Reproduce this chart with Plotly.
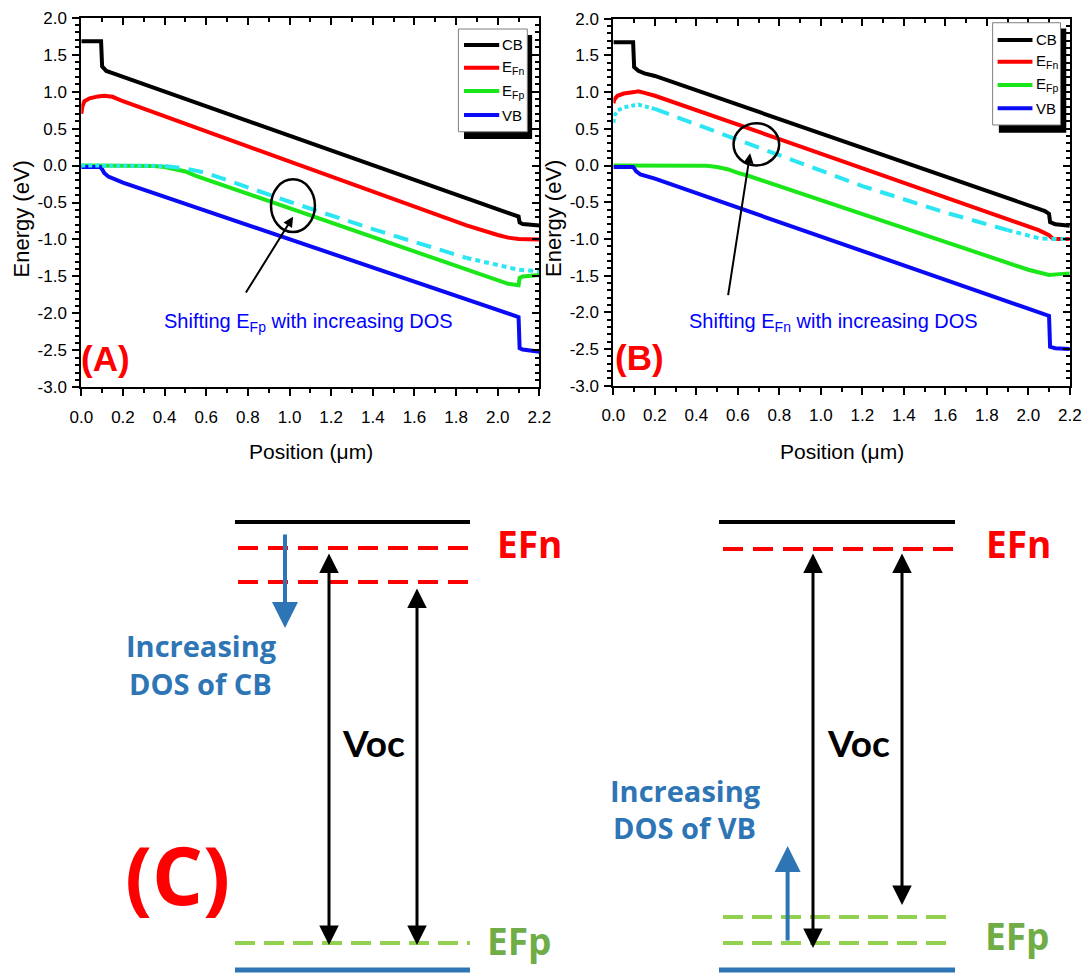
import plotly.graph_objects as go

# ---------------- Panel A data (position in um, energy in eV) ----------------
pos_cb_a = [0, 0.095, 0.1, 0.12, 0.15, 0.2, 2.0, 2.09, 2.1, 2.105, 2.12, 2.2]
cb_a = [1.68, 1.68, 1.34, 1.28, 1.25, 1.2, -0.6, -0.68, -0.69, -0.77, -0.79, -0.81]

pos_efn_a = [0, 0.005, 0.015, 0.04, 0.08, 0.11, 0.15, 0.2, 1.85, 1.95, 2.0, 2.05, 2.1, 2.2]
efn_a = [0.7, 0.8, 0.87, 0.91, 0.935, 0.945, 0.93, 0.87, -0.81, -0.9, -0.94, -0.975, -0.995, -1.0]

pos_efp_a = [0, 0.3, 0.35, 0.4, 0.45, 0.5, 0.55, 2.05, 2.1, 2.105, 2.12, 2.2]
efp_a = [0, 0, -0.005, -0.02, -0.045, -0.08, -0.14, -1.6, -1.62, -1.52, -1.5, -1.48]

pos_vb_a = [0, 0.09, 0.1, 0.11, 0.13, 0.2, 2.1, 2.105, 2.12, 2.2]
vb_a = [-0.02, -0.02, -0.05, -0.1, -0.15, -0.23, -2.05, -2.47, -2.49, -2.52]

pos_shift_a = [0, 0.35, 0.4, 0.45, 0.5, 0.6, 1.0, 1.4, 1.85, 2.0, 2.1, 2.2]
shift_a = [0, 0, -0.005, -0.02, -0.04, -0.1, -0.49, -0.86, -1.25, -1.35, -1.41, -1.43]

# ---------------- Panel B data ----------------
pos_cb_b = [0, 0.095, 0.1, 0.12, 0.15, 0.2, 2.08, 2.1, 2.105, 2.13, 2.2]
cb_b = [1.68, 1.68, 1.34, 1.29, 1.255, 1.22, -0.62, -0.66, -0.77, -0.8, -0.82]

pos_efn_b = [0, 0.005, 0.02, 0.05, 0.1, 0.12, 0.15, 0.2, 0.8, 1.9, 2.0, 2.05, 2.1, 2.12, 2.2]
efn_b = [0.85, 0.9, 0.95, 0.98, 1.0, 1.01, 0.99, 0.95, 0.36, -0.72, -0.82, -0.88, -0.95, -1.0, -1.0]

pos_efp_b = [0, 0.4, 0.45, 0.5, 0.55, 0.6, 0.65, 2.0, 2.05, 2.1, 2.15, 2.2]
efp_b = [0, 0, -0.005, -0.02, -0.05, -0.1, -0.14, -1.42, -1.46, -1.49, -1.48, -1.47]

pos_vb_b = [0, 0.095, 0.1, 0.11, 0.13, 0.2, 2.1, 2.105, 2.13, 2.2]
vb_b = [-0.02, -0.02, -0.04, -0.08, -0.12, -0.18, -2.05, -2.47, -2.49, -2.5]

pos_shift_b = [0, 0.005, 0.02, 0.05, 0.1, 0.12, 0.2, 0.7, 1.2, 1.6, 1.9, 2.0, 2.05, 2.1, 2.2]
shift_b = [0.58, 0.68, 0.75, 0.79, 0.82, 0.83, 0.77, 0.25, -0.28, -0.64, -0.88, -0.95, -0.99, -1.0, -1.0]

# ---------------- tick labels ----------------
x_tick_vals = [0.0, 0.2, 0.4, 0.6, 0.8, 1.0, 1.2, 1.4, 1.6, 1.8, 2.0, 2.2]
x_tick_text = ["0.0", "0.2", "0.4", "0.6", "0.8", "1.0", "1.2", "1.4", "1.6", "1.8", "2.0", "2.2"]
y_tick_vals = [-3.0, -2.5, -2.0, -1.5, -1.0, -0.5, 0.0, 0.5, 1.0, 1.5, 2.0]
y_tick_text = ["-3.0", "-2.5", "-2.0", "-1.5", "-1.0", "-0.5", "0.0", "0.5", "1.0", "1.5", "2.0"]

legend_names = ["CB", "E<sub>Fn</sub>", "E<sub>Fp</sub>", "VB"]

# ---------------- Panel C schematic (levels in schematic units, top = small) ----------------
c_left_span = [235, 470]
c_left_dash_span = [238, 475]
c_right_span = [719, 955]
c_right_dash_span = [723, 955]
cb_level = 522
vb_level = 970
efn_levels_left = [548, 582]
efp_level_left = 943
efn_level_right = 549
efp_levels_right = [917, 943]
voc_x_left = [329, 417]
voc_x_right = [813, 902]

W, H = 1083, 976
REG = "Liberation Sans, Arial, sans-serif"
CFONT = "Open Sans, Lato, sans-serif"
VFONT = "Lato, Open Sans, sans-serif"

BLACK = "#000000"
RED = "#FF0000"
GREEN = "#1AE61A"
BLUE = "#0A0AF5"
CYAN = "#2BE6F2"
OFFICE_BLUE = "#2E75B6"
LIGHT_GREEN = "#92D050"
TEXT_GREEN = "#70AD47"


def px(x):
    return x / W


def py(y):
    return 1 - y / H


fig = go.Figure()


def add_line(xs, ys, color, xa, ya, dash="solid", width=4):
    fig.add_trace(go.Scatter(x=xs, y=ys, mode="lines",
                             line=dict(color=color, width=width, dash=dash),
                             xaxis=xa, yaxis=ya, showlegend=False, hoverinfo="skip"))


def add_shift(xs, ys, i1, i2, xa, ya):
    add_line(xs[:i1 + 1], ys[:i1 + 1], CYAN, xa, ya, dash="4px,3px")
    add_line(xs[i1:i2 + 1], ys[i1:i2 + 1], CYAN, xa, ya, dash="15px,9px")
    add_line(xs[i2:], ys[i2:], CYAN, xa, ya, dash="5px,4px")


# Panel A
add_line(pos_cb_a, cb_a, BLACK, "x", "y")
add_line(pos_efn_a, efn_a, RED, "x", "y")
add_line(pos_efp_a, efp_a, GREEN, "x", "y")
add_line(pos_vb_a, vb_a, BLUE, "x", "y")
add_shift(pos_shift_a, shift_a, 2, 8, "x", "y")

# Panel B
add_line(pos_cb_b, cb_b, BLACK, "x2", "y2")
add_line(pos_efn_b, efn_b, RED, "x2", "y2")
add_line(pos_efp_b, efp_b, GREEN, "x2", "y2")
add_line(pos_vb_b, vb_b, BLUE, "x2", "y2")
add_shift(pos_shift_b, shift_b, 6, 10, "x2", "y2")

# dummy traces for mirrored (inside-tick) axes
fig.add_trace(go.Scatter(x=[None], y=[None], xaxis="x3", yaxis="y3", showlegend=False, hoverinfo="skip"))
fig.add_trace(go.Scatter(x=[None], y=[None], xaxis="x4", yaxis="y4", showlegend=False, hoverinfo="skip"))

# Panel C schematic
for span in (c_left_span, c_right_span):
    add_line(span, [cb_level, cb_level], BLACK, "x5", "y5", width=4)
for span in (c_left_span, c_right_span):
    add_line(span, [vb_level, vb_level], OFFICE_BLUE, "x5", "y5", width=5)
for lvl in efn_levels_left:
    add_line(c_left_dash_span, [lvl, lvl], RED, "x5", "y5", dash="20px,10px", width=4)
add_line(c_right_dash_span, [efn_level_right, efn_level_right], RED, "x5", "y5", dash="20px,10px", width=4)
add_line(c_left_span, [efp_level_left, efp_level_left], LIGHT_GREEN, "x5", "y5", dash="20px,9px", width=4)
for lvl in efp_levels_right:
    add_line(c_right_dash_span, [lvl, lvl], LIGHT_GREEN, "x5", "y5", dash="20px,9px", width=4)

# ---------------- axes ----------------
domA_x = [px(81.3), px(539.4)]
domA_y = [py(387.3), py(17.7)]
domB_x = [px(613.4), px(1069.8)]
domB_y = [py(385.7), py(18.7)]

TICKFONT = dict(family=REG, size=17, color="black")


def xmain(dom, anchor):
    return dict(domain=dom, anchor=anchor, range=[0, 2.2], tickmode="array", tickvals=x_tick_vals,
                ticktext=x_tick_text, ticks="outside", ticklen=7, tickwidth=2, tickcolor="black",
                showline=True, linewidth=2, linecolor="black", mirror=True, showgrid=False,
                zeroline=False, ticklabelstandoff=6, automargin=False, tickfont=TICKFONT,
                minor=dict(dtick=0.1, tick0=0, ticks="outside", ticklen=4, tickwidth=1.5,
                           tickcolor="black", showgrid=False))


def ymain(dom, anchor):
    return dict(domain=dom, anchor=anchor, range=[-3, 2], tickmode="array", tickvals=y_tick_vals,
                ticktext=y_tick_text, ticks="outside", ticklen=7, tickwidth=2, tickcolor="black",
                showline=True, linewidth=2, linecolor="black", mirror=True, showgrid=False,
                zeroline=False, ticklabelstandoff=2, automargin=False, tickfont=TICKFONT,
                minor=dict(dtick=0.1, tick0=0, ticks="outside", ticklen=4, tickwidth=1.5,
                           tickcolor="black", showgrid=False))


def xtop(over, anchor):
    return dict(overlaying=over, side="top", anchor=anchor, range=[0, 2.2], tickmode="array",
                tickvals=x_tick_vals, ticks="inside", ticklen=7, tickwidth=2, tickcolor="black",
                showticklabels=False, showline=False, showgrid=False, zeroline=False, automargin=False,
                minor=dict(dtick=0.1, tick0=0, ticks="inside", ticklen=4, tickwidth=1.5,
                           tickcolor="black", showgrid=False))


def yright(over, anchor):
    return dict(overlaying=over, side="right", anchor=anchor, range=[-3, 2], tickmode="array",
                tickvals=y_tick_vals, ticks="inside", ticklen=7, tickwidth=2, tickcolor="black",
                showticklabels=False, showline=False, showgrid=False, zeroline=False, automargin=False,
                minor=dict(dtick=0.1, tick0=0, ticks="inside", ticklen=4, tickwidth=1.5,
                           tickcolor="black", showgrid=False))


fig.update_layout(
    width=W, height=H, margin=dict(l=0, r=0, t=0, b=0, pad=0), autosize=False,
    paper_bgcolor="white", plot_bgcolor="rgba(0,0,0,0)", showlegend=False,
    xaxis=xmain(domA_x, "y"), yaxis=ymain(domA_y, "x"),
    xaxis2=xmain(domB_x, "y2"), yaxis2=ymain(domB_y, "x2"),
    xaxis3=xtop("x", "y"), yaxis3=yright("y", "x"),
    xaxis4=xtop("x2", "y2"), yaxis4=yright("y2", "x2"),
    xaxis5=dict(domain=[0, 1], anchor="y5", range=[0, W], visible=False, fixedrange=True, automargin=False),
    yaxis5=dict(domain=[0, py(488)], anchor="x5", range=[976, 488], visible=False, fixedrange=True,
                automargin=False),
)

shapes = []
annotations = []


# ---------------- manual legends ----------------
def legend(xr, yr, box, shadow, line_x, rows, text_x):
    shapes.append(dict(type="rect", xref=xr, yref=yr, x0=shadow[0], x1=shadow[1], y0=shadow[2], y1=shadow[3],
                       fillcolor="black", line=dict(width=0)))
    shapes.append(dict(type="rect", xref=xr, yref=yr, x0=box[0], x1=box[1], y0=box[2], y1=box[3],
                       fillcolor="white", line=dict(color="#7f7f7f", width=1)))
    for name, col, ry in zip(legend_names, [BLACK, RED, GREEN, BLUE], rows):
        shapes.append(dict(type="line", xref=xr, yref=yr, x0=line_x[0], x1=line_x[1], y0=ry, y1=ry,
                           line=dict(color=col, width=4)))
        annotations.append(dict(xref=xr, yref=yr, x=text_x, y=ry, text=name, showarrow=False,
                                xanchor="left", yanchor="middle",
                                font=dict(family=REG, size=15, color="black")))


legend("x", "y", box=[1.811, 2.142, 0.457, 1.847], shadow=[1.838, 2.165, 0.359, 1.766],
       line_x=[1.838, 2.007], rows=[1.631, 1.323, 1.008, 0.683], text_x=2.012)
legend("x2", "y2", box=[1.828, 2.155, 0.552, 1.945], shadow=[1.858, 2.183, 0.447, 1.865],
       line_x=[1.852, 2.02], rows=[1.71, 1.414, 1.097, 0.779], text_x=2.028)

# ellipses and arrows
shapes.append(dict(type="circle", xref="x", yref="y", x0=0.911, x1=1.122, y0=-0.9, y1=-0.187,
                   line=dict(color="black", width=2.5)))
shapes.append(dict(type="circle", xref="x2", yref="y2", x0=0.579, x1=0.799, y0=0.001, y1=0.577,
                   line=dict(color="black", width=2.5)))
annotations.append(dict(xref="x", yref="y", axref="x", ayref="y", x=1.017, y=-0.693, ax=0.786, ay=-1.739,
                        showarrow=True, arrowhead=2, arrowsize=1, arrowwidth=2, arrowcolor="black", text=""))
annotations.append(dict(xref="x2", yref="y2", axref="x2", ayref="y2", x=0.659, y=0.166, ax=0.552, ay=-1.787,
                        showarrow=True, arrowhead=2, arrowsize=1, arrowwidth=2, arrowcolor="black", text=""))

annotations.append(dict(xref="x", yref="y", x=0.386, y=-2.12, xanchor="left", yanchor="middle", showarrow=False,
                        text="Shifting E<sub>Fp</sub> with increasing DOS",
                        font=dict(family=REG, size=20, color="#0000FF")))
annotations.append(dict(xref="x2", yref="y2", x=0.355, y=-2.14, xanchor="left", yanchor="middle", showarrow=False,
                        text="Shifting E<sub>Fn</sub> with increasing DOS",
                        font=dict(family=REG, size=20, color="#0000FF")))
annotations.append(dict(xref="x", yref="y", x=0.114, y=-2.61, showarrow=False, text="<b>(A)</b>",
                        xanchor="center", yanchor="middle", font=dict(family=REG, size=35, color=RED)))
annotations.append(dict(xref="x2", yref="y2", x=0.128, y=-2.62, showarrow=False, text="<b>(B)</b>",
                        xanchor="center", yanchor="middle", font=dict(family=REG, size=35, color=RED)))

# axis titles
for cx in (20.5, 553):
    annotations.append(dict(xref="paper", yref="paper", x=px(cx), y=py(219), text="Energy (eV)", textangle=-90,
                            xanchor="center", yanchor="middle", showarrow=False,
                            font=dict(family=REG, size=22, color="black")))
for cx in (311, 842):
    annotations.append(dict(xref="paper", yref="paper", x=px(cx), y=py(451), text="Position (μm)",
                            xanchor="center", yanchor="middle", showarrow=False,
                            font=dict(family=REG, size=21, color="black")))


# ---------------- Panel C arrows & texts ----------------
def c_arrow(x, y_tip, y_tail, color, width, both=False):
    annotations.append(dict(xref="x5", yref="y5", axref="x5", ayref="y5", x=x, y=y_tip, ax=x, ay=y_tail,
                            showarrow=True, arrowhead=2, arrowsize=1.3, arrowwidth=width, arrowcolor=color,
                            arrowside="end+start" if both else "end", text=""))


c_arrow(voc_x_left[0], 945, efn_levels_left[0] + 4, BLACK, 3, both=True)
c_arrow(voc_x_left[1], 945, efn_levels_left[1] + 5, BLACK, 3, both=True)
c_arrow(voc_x_right[0], 948, efn_level_right + 3, BLACK, 3, both=True)
c_arrow(voc_x_right[1], 905, efn_level_right + 3, BLACK, 3, both=True)
c_arrow(285, 628, 533, OFFICE_BLUE, 4)
c_arrow(787.6, 846, 942, OFFICE_BLUE, 4)


def c_text(x, y, txt, size, color, family=CFONT):
    annotations.append(dict(xref="x5", yref="y5", x=x, y=y, text="<b>" + txt + "</b>", showarrow=False,
                            xanchor="center", yanchor="middle", font=dict(family=family, size=size, color=color)))


c_text(201, 645, "Increasing", 29, OFFICE_BLUE)
c_text(200, 683, "DOS of CB", 29, OFFICE_BLUE)
c_text(685, 790, "Increasing", 29, OFFICE_BLUE)
c_text(684, 827, "DOS of VB", 29, OFFICE_BLUE)
c_text(373.6, 742, "Voc", 37, BLACK, VFONT)
c_text(858.6, 742, "Voc", 37, BLACK, VFONT)
c_text(177, 873, "(C)", 80, RED)
c_text(529, 543, "EFn", 37, RED)
c_text(1018, 543, "EFn", 37, RED)
c_text(519, 940, "EFp", 37, TEXT_GREEN)
c_text(1017, 935, "EFp", 37, TEXT_GREEN)

fig.update_layout(shapes=shapes, annotations=annotations)

fig.write_html("out.html", config={"displayModeBar": False},
               post_script="document.body.style.margin='0px';")
